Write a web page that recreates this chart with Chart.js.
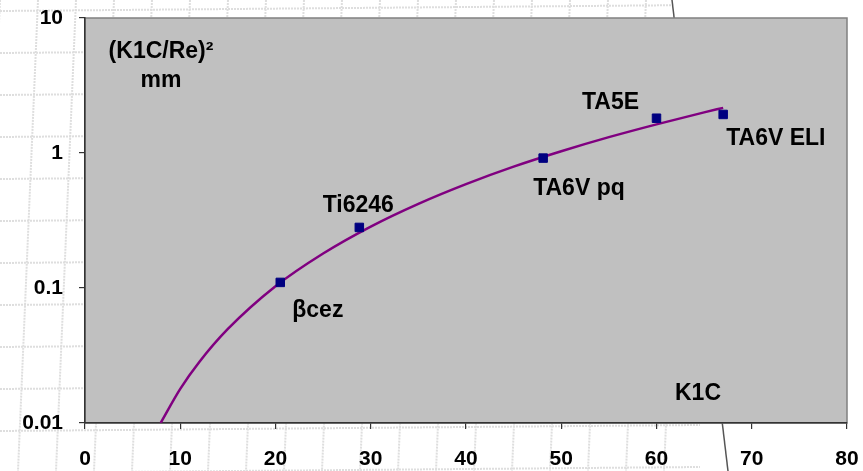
<!DOCTYPE html>
<html>
<head>
<meta charset="utf-8">
<script src="https://cdn.jsdelivr.net/npm/chart.js@4/dist/chart.umd.min.js"></script>
<style>
  html, body { margin: 0; padding: 0; background: #fff; }
  #wrap { width: 863px; height: 471px; }
</style>
</head>
<body>
<div id="wrap"><canvas id="chart" width="863" height="471"></canvas></div>
<script>
// alloys: K1C vs (K1C/Re)^2
const alloyNames = ["βcez", "Ti6246", "TA6V pq", "TA5E", "TA6V ELI"];
const alloyK1C = [20.5, 28.8, 48.1, 60.0, 67.0];
const alloyRatio = [0.110, 0.281, 0.917, 1.81, 1.93];

// trend curve
const trendX = [7.94, 10, 12, 15, 20, 25, 30, 35, 40, 45, 50, 55, 60, 65, 67];
const trendY = [0.010, 0.0179, 0.0283, 0.0497, 0.103, 0.180, 0.285, 0.420, 0.588, 0.792, 1.03, 1.31, 1.63, 2.00, 2.16];

const xTicks = [0, 10, 20, 30, 40, 50, 60, 70, 80];
const yTicks = [0.01, 0.1, 1, 10];

const FONT = 'Arial, "Liberation Sans", sans-serif';

// label placement relative to each marker (dx, dy in px, alignment)
const labelPlace = [
  { dx: 12, dy: 35, align: "left" },
  { dx: -1, dy: -15, align: "center" },
  { dx: -10, dy: 37, align: "left" },
  { dx: -46, dy: -9, align: "center" },
  { dx: 3, dy: 31, align: "left" }
];

// background: faint sheet grid + plot area fill
const backdrop = {
  id: "backdrop",
  beforeDraw(chart) {
    const { ctx, chartArea: a } = chart;
    ctx.save();
    ctx.strokeStyle = "#dedede";
    ctx.lineWidth = 2;
    ctx.setLineDash([2, 1]);
    for (let x = -20; x < 700; x += 38) {
      ctx.beginPath();
      ctx.moveTo(x + 20, 0);
      ctx.lineTo(x, 471);
      ctx.stroke();
    }
    for (let y = 5; y < 480; y += 42) {
      ctx.beginPath();
      ctx.moveTo(0, y + 6);
      ctx.lineTo(700, y);
      ctx.stroke();
    }
    ctx.setLineDash([]);
    // white sheet to the right of the fold
    ctx.fillStyle = "#fff";
    ctx.beginPath();
    ctx.moveTo(672, 0);
    ctx.lineTo(863, 0);
    ctx.lineTo(863, 471);
    ctx.lineTo(728, 471);
    ctx.closePath();
    ctx.fill();
    ctx.strokeStyle = "#555";
    ctx.lineWidth = 1.5;
    ctx.beginPath();
    ctx.moveTo(672, 0);
    ctx.lineTo(728, 471);
    ctx.stroke();

    ctx.fillStyle = "#c0c0c0";
    ctx.fillRect(a.left, a.top, a.right - a.left, a.bottom - a.top);
    ctx.strokeStyle = "#808080";
    ctx.lineWidth = 1.5;
    ctx.strokeRect(a.left, a.top, a.right - a.left, a.bottom - a.top);
    ctx.restore();
  }
};

// text labels: point names + axis titles inside plot
const annotate = {
  id: "annotate",
  afterDatasetsDraw(chart) {
    const { ctx, chartArea: a } = chart;
    const meta = chart.getDatasetMeta(1);
    ctx.save();
    ctx.fillStyle = "#000";
    ctx.font = "bold 23px " + FONT;
    ctx.textBaseline = "alphabetic";
    meta.data.forEach((pt, i) => {
      const p = labelPlace[i];
      ctx.textAlign = p.align;
      ctx.fillText(alloyNames[i], pt.x + p.dx, pt.y + p.dy);
    });
    ctx.textAlign = "center";
    ctx.fillText("(K1C/Re)²", a.left + 76, a.top + 40);
    ctx.fillText("mm", a.left + 76, a.top + 69);
    ctx.fillText("K1C", a.left + 613, a.bottom - 23);
    ctx.restore();
  }
};

const noOverflow = s => {
  s.paddingTop = 0; s.paddingBottom = 0; s.paddingLeft = 0; s.paddingRight = 0;
};

new Chart(document.getElementById("chart"), {
  type: "scatter",
  data: {
    datasets: [
      {
        label: "trend",
        data: trendX.map((x, i) => ({ x, y: trendY[i] })),
        showLine: true,
        borderColor: "#800080",
        borderWidth: 2.5,
        pointRadius: 0,
        cubicInterpolationMode: "monotone",
        order: 1
      },
      {
        label: "alloys",
        data: alloyK1C.map((x, i) => ({ x, y: alloyRatio[i] })),
        pointStyle: "rect",
        pointRadius: 6,
        pointBackgroundColor: "#000080",
        pointBorderColor: "#000080",
        pointBorderWidth: 1,
        order: 0
      }
    ]
  },
  options: {
    responsive: false,
    animation: false,
    layout: { padding: { top: 18, right: 16, left: 0, bottom: 0 } },
    plugins: { legend: { display: false }, tooltip: { enabled: false } },
    scales: {
      x: {
        type: "linear",
        min: 0,
        max: 80,
        afterBuildTicks: axis => { axis.ticks = xTicks.map(v => ({ value: v })); },
        afterFit: s => { s.height = 48; noOverflow(s); },
        grid: { drawOnChartArea: false, drawTicks: true, tickLength: 6, color: "#333", lineWidth: 1.2 },
        border: { display: true, color: "#333", width: 1.5 },
        ticks: { color: "#000", font: { family: FONT, size: 21, weight: "bold" }, padding: 18, maxRotation: 0 }
      },
      y: {
        type: "logarithmic",
        min: 0.01,
        max: 10,
        afterBuildTicks: axis => { axis.ticks = yTicks.map(v => ({ value: v })); },
        afterFit: s => { s.width = 85; noOverflow(s); },
        grid: { drawOnChartArea: false, drawTicks: true, tickLength: 6, color: "#333", lineWidth: 1.2 },
        border: { display: true, color: "#333", width: 1.5 },
        ticks: {
          color: "#000",
          font: { family: FONT, size: 21, weight: "bold" },
          padding: 16,
          callback: v => String(v)
        }
      }
    }
  },
  plugins: [backdrop, annotate]
});
</script>
</body>
</html>
